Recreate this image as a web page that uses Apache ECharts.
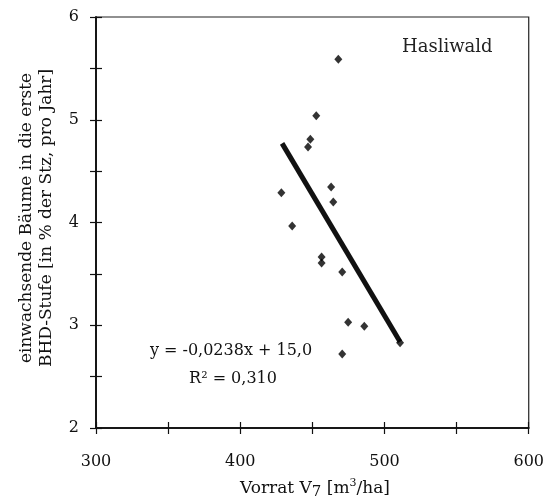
<!DOCTYPE html>
<html>
<head>
<meta charset="utf-8">
<script src="https://cdn.jsdelivr.net/npm/echarts@6/dist/echarts.min.js"></script>
<style>html,body{margin:0;padding:0;background:#fff}#c{width:547px;height:502px}</style>
</head>
<body>
<div id="c"></div>
<script>
var vorrat = [468, 452.7, 448.6, 447, 428.5, 463, 464.5, 436, 456.4, 456.4, 470.7, 474.8, 486, 510.8, 470.7];
var einwuchs = [5.59, 5.04, 4.81, 4.735, 4.29, 4.345, 4.2, 3.966, 3.664, 3.606, 3.518, 3.03, 2.99, 2.83, 2.72];
var trendX = [429, 510.8];
var trendY = [4.77, 2.84];
var xTicks = [300, 400, 500, 600];
var yTicks = [2, 3, 4, 5, 6];
var title = 'Hasliwald';
var eqText = 'y = -0,0238x + 15,0';
var r2Text = 'R² = 0,310';

var FONT = '"DejaVu Serif", "Liberation Serif", serif';
var chart = echarts.init(document.getElementById('c'), null, {renderer: 'canvas'});

var pts = vorrat.map(function (v, i) { return [v, einwuchs[i]]; });
var trend = trendX.map(function (v, i) { return [v, trendY[i]]; });

function xAx(inside, labels) {
  return {
    type: 'value', min: xTicks[0], max: xTicks[xTicks.length - 1], interval: 50,
    position: 'bottom',
    axisLine: {show: true, lineStyle: {color: '#111', width: 1.5}},
    axisTick: {show: true, inside: inside, length: 6, lineStyle: {color: '#111', width: 1.2}},
    axisLabel: {show: labels, margin: 26, color: '#111', fontFamily: FONT, fontSize: 16,
      formatter: function (v) { return xTicks.indexOf(v) >= 0 ? String(v) : ''; }},
    splitLine: {show: false}
  };
}
function yAx(inside, labels) {
  return {
    type: 'value', min: yTicks[0], max: yTicks[yTicks.length - 1], interval: 0.5,
    position: 'left',
    axisLine: {show: true, lineStyle: {color: '#111', width: 1.5}},
    axisTick: {show: true, inside: inside, length: 6, lineStyle: {color: '#111', width: 1.2}},
    axisLabel: {show: labels, margin: 17, color: '#111', fontFamily: FONT, fontSize: 16,
      formatter: function (v) { return yTicks.indexOf(v) >= 0 ? String(v) : ''; }},
    splitLine: {show: false}
  };
}

chart.setOption({
  animation: false,
  backgroundColor: '#fff',
  grid: {left: 96, top: 17, right: 17, bottom: 74, show: true, borderColor: '#222', borderWidth: 1.2, backgroundColor: 'transparent'},
  xAxis: [xAx(false, true), xAx(true, false)],
  yAxis: [yAx(false, true), yAx(true, false)],
  series: [
    {type: 'line', data: trend, xAxisIndex: 0, yAxisIndex: 0, symbol: 'none',
      lineStyle: {color: '#111', width: 5}, z: 2},
    {type: 'scatter', data: pts, xAxisIndex: 0, yAxisIndex: 0, symbol: 'diamond', symbolSize: [8, 9],
      itemStyle: {color: '#000'}, z: 3}
  ],
  graphic: [
    {type: 'text', left: 402, top: 38, style: {text: title, font: '18px ' + FONT, fill: '#222'}},
    {type: 'text', x: 231, y: 351, style: {text: eqText, font: '16px ' + FONT, fill: '#111', align: 'center', verticalAlign: 'middle'}},
    {type: 'text', x: 233, y: 379, style: {text: r2Text, font: '16px ' + FONT, fill: '#111', align: 'center', verticalAlign: 'middle'}},
    {type: 'text', x: 315, y: 489, style: {
      rich: {
        a: {fontFamily: FONT, fontSize: 17, fill: '#111', lineHeight: 22, verticalAlign: 'middle'},
        s: {fontFamily: FONT, fontSize: 15, fill: '#111', lineHeight: 14, verticalAlign: 'bottom'},
        p: {fontFamily: FONT, fontSize: 11, fill: '#111', lineHeight: 10, verticalAlign: 'top'}
      },
      text: '{a|Vorrat V}{s|7}{a| [m}{p|3}{a|/ha]}',
      align: 'center', verticalAlign: 'middle'}},
    {type: 'text', x: 27, y: 218, rotation: Math.PI / 2, style: {text: 'einwachsende Bäume in die erste', font: '17px ' + FONT, fill: '#111', align: 'center', verticalAlign: 'middle'}},
    {type: 'text', x: 47, y: 218, rotation: Math.PI / 2, style: {text: 'BHD-Stufe [in % der Stz, pro Jahr]', font: '17px ' + FONT, fill: '#111', align: 'center', verticalAlign: 'middle'}}
  ]
});
</script>
</body>
</html>
